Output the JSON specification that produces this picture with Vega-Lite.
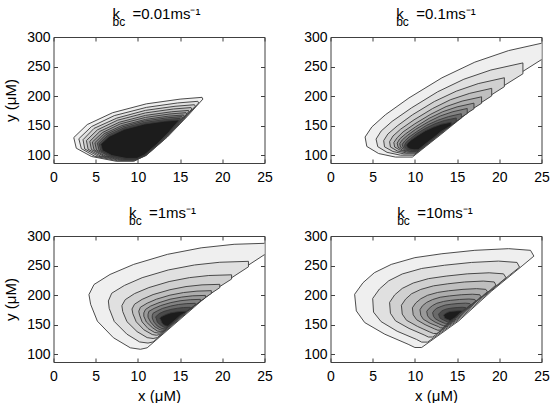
{
"$schema": "https://vega.github.io/schema/vega-lite/v6.json",
"padding": {"left": 2.5, "top": 6, "right": 0, "bottom": 0},
"config": {
  "view": {"stroke": "#404040", "strokeWidth": 1},
  "axis": {"domain": false, "grid": false, "tickColor": "#404040", "tickSize": -4, "labelFont": "Liberation Sans", "labelFontSize": 14, "labelColor": "#000000", "titleFont": "Liberation Sans", "titleFontSize": 15, "titleFontWeight": "normal", "titleColor": "#000000", "labelFlush": false, "labelOverlap": false},
  "axisX": {"labelPadding": 11, "titlePadding": 5},
  "axisY": {"labelPadding": 7.5, "titlePadding": 8},
  "title": {"anchor": "start", "offset": 2, "subtitlePadding": -5, "fontSize": 15, "subtitleFontSize": 12, "font": "Liberation Sans", "subtitleFont": "Liberation Sans", "fontWeight": "normal", "color": "#000000", "subtitleColor": "#000000", "frame": "group"}
},
"datasets": {
"p1": [
{"l":1,"i":1,"x":17.6,"y":198},{"l":1,"i":2,"x":15.0,"y":195},{"l":1,"i":3,"x":11.0,"y":187},{"l":1,"i":4,"x":7.0,"y":172},{"l":1,"i":5,"x":4.0,"y":152},{"l":1,"i":6,"x":2.4,"y":130},{"l":1,"i":7,"x":2.7,"y":112},{"l":1,"i":8,"x":4.5,"y":98},{"l":1,"i":9,"x":7.4,"y":90},{"l":1,"i":10,"x":9.5,"y":90},{"l":1,"i":11,"x":11.0,"y":100},{"l":1,"i":12,"x":13.5,"y":131},{"l":1,"i":13,"x":15.8,"y":165},{"l":1,"i":14,"x":17.7,"y":195},{"l":1,"i":15,"x":17.6,"y":198},
{"l":2,"i":1,"x":17.1,"y":191.3},{"l":2,"i":2,"x":14.7,"y":188.5},{"l":2,"i":3,"x":11.0,"y":181},{"l":2,"i":4,"x":7.2,"y":167.1},{"l":2,"i":5,"x":4.5,"y":148.5},{"l":2,"i":6,"x":3.0,"y":128},{"l":2,"i":7,"x":3.3,"y":111.3},{"l":2,"i":8,"x":4.9,"y":98.3},{"l":2,"i":9,"x":7.6,"y":90.8},{"l":2,"i":10,"x":9.6,"y":90.8},{"l":2,"i":11,"x":11.0,"y":100.1},{"l":2,"i":12,"x":13.3,"y":129},{"l":2,"i":13,"x":15.4,"y":160.6},{"l":2,"i":14,"x":17.2,"y":188.5},{"l":2,"i":15,"x":17.1,"y":191.3},
{"l":3,"i":1,"x":16.7,"y":185.5},{"l":3,"i":2,"x":14.4,"y":182.9},{"l":3,"i":3,"x":10.9,"y":176},{"l":3,"i":4,"x":7.5,"y":162.9},{"l":3,"i":5,"x":4.8,"y":145.5},{"l":3,"i":6,"x":3.5,"y":126.4},{"l":3,"i":7,"x":3.7,"y":110.7},{"l":3,"i":8,"x":5.3,"y":98.5},{"l":3,"i":9,"x":7.8,"y":91.6},{"l":3,"i":10,"x":9.6,"y":91.6},{"l":3,"i":11,"x":10.9,"y":100.3},{"l":3,"i":12,"x":13.1,"y":127.2},{"l":3,"i":13,"x":15.1,"y":156.8},{"l":3,"i":14,"x":16.8,"y":182.9},{"l":3,"i":15,"x":16.7,"y":185.5},
{"l":4,"i":1,"x":16.3,"y":180.7},{"l":4,"i":2,"x":14.2,"y":178.3},{"l":4,"i":3,"x":10.9,"y":171.7},{"l":4,"i":4,"x":7.6,"y":159.4},{"l":4,"i":5,"x":5.2,"y":143},{"l":4,"i":6,"x":3.9,"y":125},{"l":4,"i":7,"x":4.1,"y":110.2},{"l":4,"i":8,"x":5.6,"y":98.7},{"l":4,"i":9,"x":8.0,"y":92.2},{"l":4,"i":10,"x":9.7,"y":92.2},{"l":4,"i":11,"x":10.9,"y":100.4},{"l":4,"i":12,"x":13.0,"y":125.8},{"l":4,"i":13,"x":14.9,"y":153.7},{"l":4,"i":14,"x":16.4,"y":178.3},{"l":4,"i":15,"x":16.3,"y":180.7},
{"l":5,"i":1,"x":16.0,"y":175.9},{"l":5,"i":2,"x":14.0,"y":173.6},{"l":5,"i":3,"x":10.9,"y":167.5},{"l":5,"i":4,"x":7.8,"y":155.9},{"l":5,"i":5,"x":5.5,"y":140.5},{"l":5,"i":6,"x":4.3,"y":123.6},{"l":5,"i":7,"x":4.5,"y":109.7},{"l":5,"i":8,"x":5.9,"y":98.9},{"l":5,"i":9,"x":8.1,"y":92.8},{"l":5,"i":10,"x":9.7,"y":92.8},{"l":5,"i":11,"x":10.9,"y":100.5},{"l":5,"i":12,"x":12.8,"y":124.3},{"l":5,"i":13,"x":14.6,"y":150.5},{"l":5,"i":14,"x":16.0,"y":173.6},{"l":5,"i":15,"x":16.0,"y":175.9},
{"l":6,"i":1,"x":15.7,"y":172.1},{"l":6,"i":2,"x":13.8,"y":169.9},{"l":6,"i":3,"x":10.9,"y":164.1},{"l":6,"i":4,"x":7.9,"y":153.1},{"l":6,"i":5,"x":5.8,"y":138.5},{"l":6,"i":6,"x":4.6,"y":122.4},{"l":6,"i":7,"x":4.8,"y":109.3},{"l":6,"i":8,"x":6.1,"y":99.1},{"l":6,"i":9,"x":8.2,"y":93.2},{"l":6,"i":10,"x":9.8,"y":93.2},{"l":6,"i":11,"x":10.9,"y":100.5},{"l":6,"i":12,"x":12.7,"y":123.2},{"l":6,"i":13,"x":14.4,"y":148},{"l":6,"i":14,"x":15.8,"y":169.9},{"l":6,"i":15,"x":15.7,"y":172.1},
{"l":7,"i":1,"x":15.4,"y":168.2},{"l":7,"i":2,"x":13.6,"y":166.2},{"l":7,"i":3,"x":10.9,"y":160.7},{"l":7,"i":4,"x":8.1,"y":150.3},{"l":7,"i":5,"x":6.0,"y":136.5},{"l":7,"i":6,"x":4.9,"y":121.3},{"l":7,"i":7,"x":5.1,"y":108.9},{"l":7,"i":8,"x":6.4,"y":99.2},{"l":7,"i":9,"x":8.4,"y":93.7},{"l":7,"i":10,"x":9.8,"y":93.7},{"l":7,"i":11,"x":10.9,"y":100.6},{"l":7,"i":12,"x":12.6,"y":122},{"l":7,"i":13,"x":14.2,"y":145.5},{"l":7,"i":14,"x":15.5,"y":166.2},{"l":7,"i":15,"x":15.4,"y":168.2},
{"l":8,"i":1,"x":15.2,"y":165.4},{"l":8,"i":2,"x":13.5,"y":163.4},{"l":8,"i":3,"x":10.8,"y":158.1},{"l":8,"i":4,"x":8.2,"y":148.2},{"l":8,"i":5,"x":6.2,"y":135},{"l":8,"i":6,"x":5.2,"y":120.5},{"l":8,"i":7,"x":5.4,"y":108.6},{"l":8,"i":8,"x":6.5,"y":99.4},{"l":8,"i":9,"x":8.5,"y":94.1},{"l":8,"i":10,"x":9.8,"y":94.1},{"l":8,"i":11,"x":10.8,"y":100.7},{"l":8,"i":12,"x":12.5,"y":121.1},{"l":8,"i":13,"x":14.0,"y":143.6},{"l":8,"i":14,"x":15.3,"y":163.4},{"l":8,"i":15,"x":15.2,"y":165.4},
{"l":9,"i":1,"x":15.0,"y":162.5},{"l":9,"i":2,"x":13.3,"y":160.6},{"l":9,"i":3,"x":10.8,"y":155.6},{"l":9,"i":4,"x":8.3,"y":146.1},{"l":9,"i":5,"x":6.4,"y":133.5},{"l":9,"i":6,"x":5.4,"y":119.6},{"l":9,"i":7,"x":5.6,"y":108.3},{"l":9,"i":8,"x":6.7,"y":99.5},{"l":9,"i":9,"x":8.6,"y":94.4},{"l":9,"i":10,"x":9.9,"y":94.4},{"l":9,"i":11,"x":10.8,"y":100.7},{"l":9,"i":12,"x":12.4,"y":120.3},{"l":9,"i":13,"x":13.8,"y":141.7},{"l":9,"i":14,"x":15.0,"y":160.6},{"l":9,"i":15,"x":15.0,"y":162.5},
{"l":10,"i":1,"x":14.8,"y":159.6},{"l":10,"i":2,"x":13.2,"y":157.8},{"l":10,"i":3,"x":10.8,"y":153},{"l":10,"i":4,"x":8.4,"y":144},{"l":10,"i":5,"x":6.6,"y":132},{"l":10,"i":6,"x":5.6,"y":118.8},{"l":10,"i":7,"x":5.8,"y":108},{"l":10,"i":8,"x":6.9,"y":99.6},{"l":10,"i":9,"x":8.6,"y":94.8},{"l":10,"i":10,"x":9.9,"y":94.8},{"l":10,"i":11,"x":10.8,"y":100.8},{"l":10,"i":12,"x":12.3,"y":119.4},{"l":10,"i":13,"x":13.7,"y":139.8},{"l":10,"i":14,"x":14.8,"y":157.8},{"l":10,"i":15,"x":14.8,"y":159.6}
],
"p2": [
{"l":1,"i":1,"x":25.8,"y":292},{"l":1,"i":2,"x":21.1,"y":277},{"l":1,"i":3,"x":17.1,"y":257.5},{"l":1,"i":4,"x":13.2,"y":231},{"l":1,"i":5,"x":9.3,"y":197},{"l":1,"i":6,"x":6.5,"y":168.5},{"l":1,"i":7,"x":4.9,"y":148},{"l":1,"i":8,"x":4.1,"y":131},{"l":1,"i":9,"x":4.3,"y":115},{"l":1,"i":10,"x":5.7,"y":103},{"l":1,"i":11,"x":7.7,"y":97},{"l":1,"i":12,"x":9.7,"y":97},{"l":1,"i":13,"x":13.2,"y":136.6},{"l":1,"i":14,"x":17.1,"y":181.6},{"l":1,"i":15,"x":21.1,"y":226.6},{"l":1,"i":16,"x":25.8,"y":269},{"l":1,"i":17,"x":25.8,"y":292},
{"l":2,"i":1,"x":22.8,"y":256.2},{"l":2,"i":2,"x":19.0,"y":244.2},{"l":2,"i":3,"x":15.8,"y":228.6},{"l":2,"i":4,"x":12.7,"y":207.4},{"l":2,"i":5,"x":9.6,"y":180.2},{"l":2,"i":6,"x":7.3,"y":157.4},{"l":2,"i":7,"x":6.0,"y":141},{"l":2,"i":8,"x":5.4,"y":127.4},{"l":2,"i":9,"x":5.6,"y":114.6},{"l":2,"i":10,"x":6.7,"y":105},{"l":2,"i":11,"x":8.3,"y":100.2},{"l":2,"i":12,"x":9.9,"y":100.2},{"l":2,"i":13,"x":12.7,"y":131.9},{"l":2,"i":14,"x":15.8,"y":167.9},{"l":2,"i":15,"x":19.0,"y":203.9},{"l":2,"i":16,"x":22.8,"y":237.8},{"l":2,"i":17,"x":22.8,"y":256.2},
{"l":3,"i":1,"x":20.6,"y":231.1},{"l":3,"i":2,"x":17.5,"y":221.2},{"l":3,"i":3,"x":14.9,"y":208.4},{"l":3,"i":4,"x":12.3,"y":190.9},{"l":3,"i":5,"x":9.7,"y":168.4},{"l":3,"i":6,"x":7.9,"y":149.6},{"l":3,"i":7,"x":6.8,"y":136.1},{"l":3,"i":8,"x":6.3,"y":124.9},{"l":3,"i":9,"x":6.4,"y":114.3},{"l":3,"i":10,"x":7.4,"y":106.4},{"l":3,"i":11,"x":8.7,"y":102.4},{"l":3,"i":12,"x":10.0,"y":102.4},{"l":3,"i":13,"x":12.3,"y":128.6},{"l":3,"i":14,"x":14.9,"y":158.3},{"l":3,"i":15,"x":17.5,"y":188},{"l":3,"i":16,"x":20.6,"y":216},{"l":3,"i":17,"x":20.6,"y":231.1},
{"l":4,"i":1,"x":19.1,"y":213.2},{"l":4,"i":2,"x":16.5,"y":204.8},{"l":4,"i":3,"x":14.2,"y":193.9},{"l":4,"i":4,"x":12.1,"y":179.1},{"l":4,"i":5,"x":9.9,"y":160},{"l":4,"i":6,"x":8.3,"y":144.1},{"l":4,"i":7,"x":7.4,"y":132.6},{"l":4,"i":8,"x":7.0,"y":123.1},{"l":4,"i":9,"x":7.1,"y":114.1},{"l":4,"i":10,"x":7.9,"y":107.4},{"l":4,"i":11,"x":9.0,"y":104},{"l":4,"i":12,"x":10.1,"y":104},{"l":4,"i":13,"x":12.1,"y":126.2},{"l":4,"i":14,"x":14.2,"y":151.4},{"l":4,"i":15,"x":16.5,"y":176.6},{"l":4,"i":16,"x":19.1,"y":200.4},{"l":4,"i":17,"x":19.1,"y":213.2},
{"l":5,"i":1,"x":17.9,"y":198.9},{"l":5,"i":2,"x":15.6,"y":191.7},{"l":5,"i":3,"x":13.7,"y":182.4},{"l":5,"i":4,"x":11.9,"y":169.6},{"l":5,"i":5,"x":10.0,"y":153.3},{"l":5,"i":6,"x":8.6,"y":139.6},{"l":5,"i":7,"x":7.9,"y":129.8},{"l":5,"i":8,"x":7.5,"y":121.6},{"l":5,"i":9,"x":7.6,"y":114},{"l":5,"i":10,"x":8.3,"y":108.2},{"l":5,"i":11,"x":9.2,"y":105.3},{"l":5,"i":12,"x":10.2,"y":105.3},{"l":5,"i":13,"x":11.9,"y":124.3},{"l":5,"i":14,"x":13.7,"y":145.9},{"l":5,"i":15,"x":15.6,"y":167.5},{"l":5,"i":16,"x":17.9,"y":187.9},{"l":5,"i":17,"x":17.9,"y":198.9},
{"l":6,"i":1,"x":17.0,"y":188.2},{"l":6,"i":2,"x":15.0,"y":181.9},{"l":6,"i":3,"x":13.3,"y":173.7},{"l":6,"i":4,"x":11.7,"y":162.6},{"l":6,"i":5,"x":10.1,"y":148.3},{"l":6,"i":6,"x":8.9,"y":136.3},{"l":6,"i":7,"x":8.2,"y":127.7},{"l":6,"i":8,"x":7.9,"y":120.6},{"l":6,"i":9,"x":8.0,"y":113.8},{"l":6,"i":10,"x":8.5,"y":108.8},{"l":6,"i":11,"x":9.4,"y":106.3},{"l":6,"i":12,"x":10.2,"y":106.3},{"l":6,"i":13,"x":11.7,"y":122.9},{"l":6,"i":14,"x":13.3,"y":141.8},{"l":6,"i":15,"x":15.0,"y":160.7},{"l":6,"i":16,"x":17.0,"y":178.5},{"l":6,"i":17,"x":17.0,"y":188.2},
{"l":7,"i":1,"x":16.2,"y":179.2},{"l":7,"i":2,"x":14.5,"y":173.7},{"l":7,"i":3,"x":13.0,"y":166.5},{"l":7,"i":4,"x":11.6,"y":156.7},{"l":7,"i":5,"x":10.1,"y":144.1},{"l":7,"i":6,"x":9.1,"y":133.5},{"l":7,"i":7,"x":8.5,"y":126},{"l":7,"i":8,"x":8.2,"y":119.7},{"l":7,"i":9,"x":8.3,"y":113.7},{"l":7,"i":10,"x":8.8,"y":109.3},{"l":7,"i":11,"x":9.5,"y":107.1},{"l":7,"i":12,"x":10.3,"y":107.1},{"l":7,"i":13,"x":11.6,"y":121.7},{"l":7,"i":14,"x":13.0,"y":138.4},{"l":7,"i":15,"x":14.5,"y":155},{"l":7,"i":16,"x":16.2,"y":170.7},{"l":7,"i":17,"x":16.2,"y":179.2},
{"l":8,"i":1,"x":15.5,"y":170.3},{"l":8,"i":2,"x":14.0,"y":165.5},{"l":8,"i":3,"x":12.7,"y":159.2},{"l":8,"i":4,"x":11.4,"y":150.8},{"l":8,"i":5,"x":10.2,"y":139.9},{"l":8,"i":6,"x":9.3,"y":130.8},{"l":8,"i":7,"x":8.8,"y":124.2},{"l":8,"i":8,"x":8.5,"y":118.8},{"l":8,"i":9,"x":8.6,"y":113.6},{"l":8,"i":10,"x":9.0,"y":109.8},{"l":8,"i":11,"x":9.7,"y":107.9},{"l":8,"i":12,"x":10.3,"y":107.9},{"l":8,"i":13,"x":11.4,"y":120.6},{"l":8,"i":14,"x":12.7,"y":135},{"l":8,"i":15,"x":14.0,"y":149.4},{"l":8,"i":16,"x":15.5,"y":162.9},{"l":8,"i":17,"x":15.5,"y":170.3},
{"l":9,"i":1,"x":14.9,"y":163.1},{"l":9,"i":2,"x":13.5,"y":158.9},{"l":9,"i":3,"x":12.4,"y":153.5},{"l":9,"i":4,"x":11.3,"y":146},{"l":9,"i":5,"x":10.2,"y":136.5},{"l":9,"i":6,"x":9.5,"y":128.5},{"l":9,"i":7,"x":9.0,"y":122.8},{"l":9,"i":8,"x":8.8,"y":118},{"l":9,"i":9,"x":8.8,"y":113.6},{"l":9,"i":10,"x":9.2,"y":110.2},{"l":9,"i":11,"x":9.8,"y":108.5},{"l":9,"i":12,"x":10.4,"y":108.5},{"l":9,"i":13,"x":11.3,"y":119.6},{"l":9,"i":14,"x":12.4,"y":132.2},{"l":9,"i":15,"x":13.5,"y":144.8},{"l":9,"i":16,"x":14.9,"y":156.7},{"l":9,"i":17,"x":14.9,"y":163.1},
{"l":10,"i":1,"x":14.3,"y":156},{"l":10,"i":2,"x":13.1,"y":152.4},{"l":10,"i":3,"x":12.2,"y":147.7},{"l":10,"i":4,"x":11.2,"y":141.3},{"l":10,"i":5,"x":10.3,"y":133.2},{"l":10,"i":6,"x":9.6,"y":126.3},{"l":10,"i":7,"x":9.2,"y":121.4},{"l":10,"i":8,"x":9.0,"y":117.3},{"l":10,"i":9,"x":9.1,"y":113.5},{"l":10,"i":10,"x":9.4,"y":110.6},{"l":10,"i":11,"x":9.9,"y":109.2},{"l":10,"i":12,"x":10.4,"y":109.2},{"l":10,"i":13,"x":11.2,"y":118.7},{"l":10,"i":14,"x":12.2,"y":129.5},{"l":10,"i":15,"x":13.1,"y":140.3},{"l":10,"i":16,"x":14.3,"y":150.4},{"l":10,"i":17,"x":14.3,"y":156}
],
"p3": [
{"l":1,"i":1,"x":25.8,"y":288},{"l":1,"i":2,"x":21.4,"y":286},{"l":1,"i":3,"x":17.5,"y":280},{"l":1,"i":4,"x":13.5,"y":269},{"l":1,"i":5,"x":9.5,"y":252},{"l":1,"i":6,"x":6.7,"y":235},{"l":1,"i":7,"x":4.8,"y":218},{"l":1,"i":8,"x":4.2,"y":201},{"l":1,"i":9,"x":4.4,"y":184.5},{"l":1,"i":10,"x":5.2,"y":156},{"l":1,"i":11,"x":7.1,"y":128},{"l":1,"i":12,"x":9.1,"y":111},{"l":1,"i":13,"x":10.3,"y":108.5},{"l":1,"i":14,"x":11.1,"y":111},{"l":1,"i":15,"x":17.5,"y":190},{"l":1,"i":16,"x":21.4,"y":235},{"l":1,"i":17,"x":25.8,"y":276},{"l":1,"i":18,"x":25.8,"y":288},
{"l":2,"i":1,"x":23.1,"y":257.2},{"l":2,"i":2,"x":19.7,"y":255.6},{"l":2,"i":3,"x":16.7,"y":251},{"l":2,"i":4,"x":13.6,"y":242.6},{"l":2,"i":5,"x":10.5,"y":229.5},{"l":2,"i":6,"x":8.4,"y":216.4},{"l":2,"i":7,"x":6.9,"y":203.3},{"l":2,"i":8,"x":6.5,"y":190.2},{"l":2,"i":9,"x":6.6,"y":177.5},{"l":2,"i":10,"x":7.2,"y":155.5},{"l":2,"i":11,"x":8.7,"y":134},{"l":2,"i":12,"x":10.2,"y":120.9},{"l":2,"i":13,"x":11.2,"y":119},{"l":2,"i":14,"x":11.8,"y":120.9},{"l":2,"i":15,"x":16.7,"y":181.7},{"l":2,"i":16,"x":19.7,"y":216.4},{"l":2,"i":17,"x":23.1,"y":247.9},{"l":2,"i":18,"x":23.1,"y":257.2},
{"l":3,"i":1,"x":21.1,"y":234.4},{"l":3,"i":2,"x":18.4,"y":233.2},{"l":3,"i":3,"x":16.1,"y":229.6},{"l":3,"i":4,"x":13.7,"y":223},{"l":3,"i":5,"x":11.3,"y":212.8},{"l":3,"i":6,"x":9.6,"y":202.6},{"l":3,"i":7,"x":8.5,"y":192.4},{"l":3,"i":8,"x":8.1,"y":182.2},{"l":3,"i":9,"x":8.2,"y":172.3},{"l":3,"i":10,"x":8.7,"y":155.2},{"l":3,"i":11,"x":9.9,"y":138.4},{"l":3,"i":12,"x":11.1,"y":128.2},{"l":3,"i":13,"x":11.8,"y":126.7},{"l":3,"i":14,"x":12.3,"y":128.2},{"l":3,"i":15,"x":16.1,"y":175.6},{"l":3,"i":16,"x":18.4,"y":202.6},{"l":3,"i":17,"x":21.1,"y":227.2},{"l":3,"i":18,"x":21.1,"y":234.4},
{"l":4,"i":1,"x":19.7,"y":218.3},{"l":4,"i":2,"x":17.6,"y":217.4},{"l":4,"i":3,"x":15.7,"y":214.5},{"l":4,"i":4,"x":13.8,"y":209.2},{"l":4,"i":5,"x":11.8,"y":201},{"l":4,"i":6,"x":10.5,"y":192.9},{"l":4,"i":7,"x":9.6,"y":184.7},{"l":4,"i":8,"x":9.3,"y":176.6},{"l":4,"i":9,"x":9.4,"y":168.6},{"l":4,"i":10,"x":9.8,"y":155},{"l":4,"i":11,"x":10.7,"y":141.5},{"l":4,"i":12,"x":11.7,"y":133.4},{"l":4,"i":13,"x":12.2,"y":132.2},{"l":4,"i":14,"x":12.6,"y":133.4},{"l":4,"i":15,"x":15.7,"y":171.3},{"l":4,"i":16,"x":17.6,"y":192.9},{"l":4,"i":17,"x":19.7,"y":212.6},{"l":4,"i":18,"x":19.7,"y":218.3},
{"l":5,"i":1,"x":18.7,"y":207.6},{"l":5,"i":2,"x":17.0,"y":206.8},{"l":5,"i":3,"x":15.4,"y":204.4},{"l":5,"i":4,"x":13.8,"y":200},{"l":5,"i":5,"x":12.2,"y":193.2},{"l":5,"i":6,"x":11.1,"y":186.4},{"l":5,"i":7,"x":10.3,"y":179.6},{"l":5,"i":8,"x":10.1,"y":172.8},{"l":5,"i":9,"x":10.2,"y":166.2},{"l":5,"i":10,"x":10.5,"y":154.8},{"l":5,"i":11,"x":11.2,"y":143.6},{"l":5,"i":12,"x":12.0,"y":136.8},{"l":5,"i":13,"x":12.5,"y":135.8},{"l":5,"i":14,"x":12.8,"y":136.8},{"l":5,"i":15,"x":15.4,"y":168.4},{"l":5,"i":16,"x":17.0,"y":186.4},{"l":5,"i":17,"x":18.7,"y":202.8},{"l":5,"i":18,"x":18.7,"y":207.6},
{"l":6,"i":1,"x":18.0,"y":199.6},{"l":6,"i":2,"x":16.5,"y":198.9},{"l":6,"i":3,"x":15.2,"y":196.8},{"l":6,"i":4,"x":13.8,"y":193.1},{"l":6,"i":5,"x":12.5,"y":187.3},{"l":6,"i":6,"x":11.5,"y":181.5},{"l":6,"i":7,"x":10.9,"y":175.8},{"l":6,"i":8,"x":10.7,"y":170},{"l":6,"i":9,"x":10.7,"y":164.4},{"l":6,"i":10,"x":11.0,"y":154.7},{"l":6,"i":11,"x":11.7,"y":145.2},{"l":6,"i":12,"x":12.3,"y":139.4},{"l":6,"i":13,"x":12.7,"y":138.5},{"l":6,"i":14,"x":13.0,"y":139.4},{"l":6,"i":15,"x":15.2,"y":166.2},{"l":6,"i":16,"x":16.5,"y":181.5},{"l":6,"i":17,"x":18.0,"y":195.5},{"l":6,"i":18,"x":18.0,"y":199.6},
{"l":7,"i":1,"x":17.4,"y":192.9},{"l":7,"i":2,"x":16.2,"y":192.3},{"l":7,"i":3,"x":15.0,"y":190.5},{"l":7,"i":4,"x":13.9,"y":187.4},{"l":7,"i":5,"x":12.7,"y":182.4},{"l":7,"i":6,"x":11.9,"y":177.5},{"l":7,"i":7,"x":11.3,"y":172.6},{"l":7,"i":8,"x":11.2,"y":167.6},{"l":7,"i":9,"x":11.2,"y":162.8},{"l":7,"i":10,"x":11.5,"y":154.6},{"l":7,"i":11,"x":12.0,"y":146.5},{"l":7,"i":12,"x":12.6,"y":141.5},{"l":7,"i":13,"x":12.9,"y":140.8},{"l":7,"i":14,"x":13.2,"y":141.5},{"l":7,"i":15,"x":15.0,"y":164.4},{"l":7,"i":16,"x":16.2,"y":177.5},{"l":7,"i":17,"x":17.4,"y":189.4},{"l":7,"i":18,"x":17.4,"y":192.9},
{"l":8,"i":1,"x":16.8,"y":186.2},{"l":8,"i":2,"x":15.8,"y":185.7},{"l":8,"i":3,"x":14.8,"y":184.2},{"l":8,"i":4,"x":13.9,"y":181.6},{"l":8,"i":5,"x":12.9,"y":177.5},{"l":8,"i":6,"x":12.3,"y":173.4},{"l":8,"i":7,"x":11.8,"y":169.4},{"l":8,"i":8,"x":11.7,"y":165.3},{"l":8,"i":9,"x":11.7,"y":161.3},{"l":8,"i":10,"x":11.9,"y":154.5},{"l":8,"i":11,"x":12.3,"y":147.8},{"l":8,"i":12,"x":12.8,"y":143.7},{"l":8,"i":13,"x":13.1,"y":143.1},{"l":8,"i":14,"x":13.3,"y":143.7},{"l":8,"i":15,"x":14.8,"y":162.6},{"l":8,"i":16,"x":15.8,"y":173.4},{"l":8,"i":17,"x":16.8,"y":183.3},{"l":8,"i":18,"x":16.8,"y":186.2},
{"l":9,"i":1,"x":16.2,"y":179.5},{"l":9,"i":2,"x":15.4,"y":179.1},{"l":9,"i":3,"x":14.7,"y":177.9},{"l":9,"i":4,"x":13.9,"y":175.9},{"l":9,"i":5,"x":13.1,"y":172.6},{"l":9,"i":6,"x":12.6,"y":169.4},{"l":9,"i":7,"x":12.3,"y":166.2},{"l":9,"i":8,"x":12.1,"y":162.9},{"l":9,"i":9,"x":12.2,"y":159.8},{"l":9,"i":10,"x":12.3,"y":154.4},{"l":9,"i":11,"x":12.7,"y":149.1},{"l":9,"i":12,"x":13.1,"y":145.8},{"l":9,"i":13,"x":13.3,"y":145.4},{"l":9,"i":14,"x":13.5,"y":145.8},{"l":9,"i":15,"x":14.7,"y":160.8},{"l":9,"i":16,"x":15.4,"y":169.4},{"l":9,"i":17,"x":16.2,"y":177.2},{"l":9,"i":18,"x":16.2,"y":179.5},
{"l":10,"i":1,"x":15.7,"y":172.8},{"l":10,"i":2,"x":15.0,"y":172.5},{"l":10,"i":3,"x":14.5,"y":171.6},{"l":10,"i":4,"x":13.9,"y":170.1},{"l":10,"i":5,"x":13.4,"y":167.7},{"l":10,"i":6,"x":13.0,"y":165.3},{"l":10,"i":7,"x":12.7,"y":163},{"l":10,"i":8,"x":12.6,"y":160.6},{"l":10,"i":9,"x":12.7,"y":158.3},{"l":10,"i":10,"x":12.8,"y":154.3},{"l":10,"i":11,"x":13.0,"y":150.4},{"l":10,"i":12,"x":13.3,"y":148},{"l":10,"i":13,"x":13.5,"y":147.6},{"l":10,"i":14,"x":13.6,"y":148},{"l":10,"i":15,"x":14.5,"y":159},{"l":10,"i":16,"x":15.0,"y":165.3},{"l":10,"i":17,"x":15.7,"y":171.1},{"l":10,"i":18,"x":15.7,"y":172.8}
],
"p4": [
{"l":1,"i":1,"x":24.1,"y":266},{"l":1,"i":2,"x":23.7,"y":275.8},{"l":1,"i":3,"x":21.1,"y":278.6},{"l":1,"i":4,"x":17.1,"y":275.8},{"l":1,"i":5,"x":13.2,"y":270},{"l":1,"i":6,"x":10.0,"y":263.4},{"l":1,"i":7,"x":7.2,"y":252},{"l":1,"i":8,"x":5.2,"y":238},{"l":1,"i":9,"x":3.85,"y":221},{"l":1,"i":10,"x":2.86,"y":201.5},{"l":1,"i":11,"x":3.06,"y":173.4},{"l":1,"i":12,"x":4.05,"y":153.7},{"l":1,"i":13,"x":6.43,"y":134},{"l":1,"i":14,"x":9.2,"y":117},{"l":1,"i":15,"x":10.0,"y":111.5},{"l":1,"i":16,"x":10.8,"y":111.5},{"l":1,"i":17,"x":15.2,"y":156.5},{"l":1,"i":18,"x":19.1,"y":207},{"l":1,"i":19,"x":22.7,"y":249.4},{"l":1,"i":20,"x":24.1,"y":266},
{"l":2,"i":1,"x":22.4,"y":247.3},{"l":2,"i":2,"x":22.1,"y":255.3},{"l":2,"i":3,"x":19.9,"y":257.6},{"l":2,"i":4,"x":16.7,"y":255.3},{"l":2,"i":5,"x":13.5,"y":250.6},{"l":2,"i":6,"x":10.8,"y":245.1},{"l":2,"i":7,"x":8.5,"y":235.8},{"l":2,"i":8,"x":6.9,"y":224.3},{"l":2,"i":9,"x":5.8,"y":210.4},{"l":2,"i":10,"x":5.0,"y":194.4},{"l":2,"i":11,"x":5.1,"y":171.3},{"l":2,"i":12,"x":6.0,"y":155.2},{"l":2,"i":13,"x":7.9,"y":139},{"l":2,"i":14,"x":10.2,"y":125.1},{"l":2,"i":15,"x":10.8,"y":120.6},{"l":2,"i":16,"x":11.5,"y":120.6},{"l":2,"i":17,"x":15.1,"y":157.5},{"l":2,"i":18,"x":18.3,"y":198.9},{"l":2,"i":19,"x":21.2,"y":233.7},{"l":2,"i":20,"x":22.4,"y":247.3},
{"l":3,"i":1,"x":20.8,"y":229.6},{"l":3,"i":2,"x":20.5,"y":236},{"l":3,"i":3,"x":18.8,"y":237.8},{"l":3,"i":4,"x":16.2,"y":236},{"l":3,"i":5,"x":13.7,"y":232.2},{"l":3,"i":6,"x":11.6,"y":227.9},{"l":3,"i":7,"x":9.8,"y":220.5},{"l":3,"i":8,"x":8.5,"y":211.4},{"l":3,"i":9,"x":7.6,"y":200.4},{"l":3,"i":10,"x":7.0,"y":187.7},{"l":3,"i":11,"x":7.1,"y":169.4},{"l":3,"i":12,"x":7.7,"y":156.6},{"l":3,"i":13,"x":9.3,"y":143.8},{"l":3,"i":14,"x":11.1,"y":132.7},{"l":3,"i":15,"x":11.6,"y":129.2},{"l":3,"i":16,"x":12.1,"y":129.2},{"l":3,"i":17,"x":15.0,"y":158.4},{"l":3,"i":18,"x":17.5,"y":191.3},{"l":3,"i":19,"x":19.9,"y":218.8},{"l":3,"i":20,"x":20.8,"y":229.6},
{"l":4,"i":1,"x":19.6,"y":217.1},{"l":4,"i":2,"x":19.4,"y":222.3},{"l":4,"i":3,"x":18.1,"y":223.8},{"l":4,"i":4,"x":15.9,"y":222.3},{"l":4,"i":5,"x":13.9,"y":219.2},{"l":4,"i":6,"x":12.2,"y":215.7},{"l":4,"i":7,"x":10.7,"y":209.7},{"l":4,"i":8,"x":9.6,"y":202.3},{"l":4,"i":9,"x":8.9,"y":193.3},{"l":4,"i":10,"x":8.4,"y":182.9},{"l":4,"i":11,"x":8.5,"y":168},{"l":4,"i":12,"x":9.0,"y":157.6},{"l":4,"i":13,"x":10.3,"y":147.2},{"l":4,"i":14,"x":11.7,"y":138.1},{"l":4,"i":15,"x":12.2,"y":135.2},{"l":4,"i":16,"x":12.6,"y":135.2},{"l":4,"i":17,"x":14.9,"y":159.1},{"l":4,"i":18,"x":17.0,"y":185.9},{"l":4,"i":19,"x":18.9,"y":208.3},{"l":4,"i":20,"x":19.6,"y":217.1},
{"l":5,"i":1,"x":18.6,"y":205.7},{"l":5,"i":2,"x":18.4,"y":209.8},{"l":5,"i":3,"x":17.3,"y":211},{"l":5,"i":4,"x":15.7,"y":209.8},{"l":5,"i":5,"x":14.0,"y":207.4},{"l":5,"i":6,"x":12.7,"y":204.6},{"l":5,"i":7,"x":11.5,"y":199.8},{"l":5,"i":8,"x":10.7,"y":193.9},{"l":5,"i":9,"x":10.1,"y":186.8},{"l":5,"i":10,"x":9.7,"y":178.6},{"l":5,"i":11,"x":9.8,"y":166.8},{"l":5,"i":12,"x":10.2,"y":158.5},{"l":5,"i":13,"x":11.2,"y":150.2},{"l":5,"i":14,"x":12.3,"y":143.1},{"l":5,"i":15,"x":12.7,"y":140.8},{"l":5,"i":16,"x":13.0,"y":140.8},{"l":5,"i":17,"x":14.9,"y":159.7},{"l":5,"i":18,"x":16.5,"y":180.9},{"l":5,"i":19,"x":18.0,"y":198.7},{"l":5,"i":20,"x":18.6,"y":205.7},
{"l":6,"i":1,"x":17.8,"y":197.4},{"l":6,"i":2,"x":17.7,"y":200.7},{"l":6,"i":3,"x":16.8,"y":201.6},{"l":6,"i":4,"x":15.5,"y":200.7},{"l":6,"i":5,"x":14.1,"y":198.7},{"l":6,"i":6,"x":13.0,"y":196.5},{"l":6,"i":7,"x":12.1,"y":192.6},{"l":6,"i":8,"x":11.4,"y":187.8},{"l":6,"i":9,"x":10.9,"y":182.1},{"l":6,"i":10,"x":10.6,"y":175.4},{"l":6,"i":11,"x":10.7,"y":165.9},{"l":6,"i":12,"x":11.0,"y":159.2},{"l":6,"i":13,"x":11.8,"y":152.5},{"l":6,"i":14,"x":12.8,"y":146.7},{"l":6,"i":15,"x":13.0,"y":144.8},{"l":6,"i":16,"x":13.3,"y":144.8},{"l":6,"i":17,"x":14.8,"y":160.1},{"l":6,"i":18,"x":16.1,"y":177.3},{"l":6,"i":19,"x":17.4,"y":191.7},{"l":6,"i":20,"x":17.8,"y":197.4},
{"l":7,"i":1,"x":17.2,"y":190.1},{"l":7,"i":2,"x":17.1,"y":192.7},{"l":7,"i":3,"x":16.4,"y":193.5},{"l":7,"i":4,"x":15.3,"y":192.7},{"l":7,"i":5,"x":14.2,"y":191.2},{"l":7,"i":6,"x":13.4,"y":189.4},{"l":7,"i":7,"x":12.6,"y":186.3},{"l":7,"i":8,"x":12.1,"y":182.5},{"l":7,"i":9,"x":11.7,"y":177.9},{"l":7,"i":10,"x":11.4,"y":172.7},{"l":7,"i":11,"x":11.5,"y":165.1},{"l":7,"i":12,"x":11.8,"y":159.8},{"l":7,"i":13,"x":12.4,"y":154.4},{"l":7,"i":14,"x":13.1,"y":149.8},{"l":7,"i":15,"x":13.4,"y":148.4},{"l":7,"i":16,"x":13.6,"y":148.4},{"l":7,"i":17,"x":14.8,"y":160.5},{"l":7,"i":18,"x":15.8,"y":174.2},{"l":7,"i":19,"x":16.8,"y":185.6},{"l":7,"i":20,"x":17.2,"y":190.1},
{"l":8,"i":1,"x":16.6,"y":183.8},{"l":8,"i":2,"x":16.5,"y":185.9},{"l":8,"i":3,"x":16.0,"y":186.5},{"l":8,"i":4,"x":15.1,"y":185.9},{"l":8,"i":5,"x":14.3,"y":184.7},{"l":8,"i":6,"x":13.6,"y":183.3},{"l":8,"i":7,"x":13.1,"y":180.9},{"l":8,"i":8,"x":12.6,"y":178},{"l":8,"i":9,"x":12.3,"y":174.4},{"l":8,"i":10,"x":12.1,"y":170.3},{"l":8,"i":11,"x":12.2,"y":164.4},{"l":8,"i":12,"x":12.4,"y":160.3},{"l":8,"i":13,"x":12.9,"y":156.1},{"l":8,"i":14,"x":13.5,"y":152.5},{"l":8,"i":15,"x":13.6,"y":151.4},{"l":8,"i":16,"x":13.8,"y":151.4},{"l":8,"i":17,"x":14.7,"y":160.8},{"l":8,"i":18,"x":15.6,"y":171.5},{"l":8,"i":19,"x":16.3,"y":180.4},{"l":8,"i":20,"x":16.6,"y":183.8},
{"l":9,"i":1,"x":16.0,"y":177.6},{"l":9,"i":2,"x":16.0,"y":179.1},{"l":9,"i":3,"x":15.6,"y":179.5},{"l":9,"i":4,"x":15.0,"y":179.1},{"l":9,"i":5,"x":14.4,"y":178.2},{"l":9,"i":6,"x":13.9,"y":177.2},{"l":9,"i":7,"x":13.5,"y":175.5},{"l":9,"i":8,"x":13.2,"y":173.4},{"l":9,"i":9,"x":13.0,"y":170.9},{"l":9,"i":10,"x":12.8,"y":167.9},{"l":9,"i":11,"x":12.9,"y":163.7},{"l":9,"i":12,"x":13.0,"y":160.8},{"l":9,"i":13,"x":13.4,"y":157.8},{"l":9,"i":14,"x":13.8,"y":155.2},{"l":9,"i":15,"x":13.9,"y":154.4},{"l":9,"i":16,"x":14.0,"y":154.4},{"l":9,"i":17,"x":14.7,"y":161.2},{"l":9,"i":18,"x":15.3,"y":168.8},{"l":9,"i":19,"x":15.8,"y":175.1},{"l":9,"i":20,"x":16.0,"y":177.6},
{"l":10,"i":1,"x":15.6,"y":172.4},{"l":10,"i":2,"x":15.5,"y":173.4},{"l":10,"i":3,"x":15.3,"y":173.7},{"l":10,"i":4,"x":14.9,"y":173.4},{"l":10,"i":5,"x":14.5,"y":172.8},{"l":10,"i":6,"x":14.1,"y":172.1},{"l":10,"i":7,"x":13.9,"y":171},{"l":10,"i":8,"x":13.7,"y":169.6},{"l":10,"i":9,"x":13.5,"y":167.9},{"l":10,"i":10,"x":13.4,"y":166},{"l":10,"i":11,"x":13.5,"y":163.1},{"l":10,"i":12,"x":13.5,"y":161.2},{"l":10,"i":13,"x":13.8,"y":159.2},{"l":10,"i":14,"x":14.1,"y":157.5},{"l":10,"i":15,"x":14.1,"y":156.9},{"l":10,"i":16,"x":14.2,"y":156.9},{"l":10,"i":17,"x":14.7,"y":161.4},{"l":10,"i":18,"x":15.1,"y":166.5},{"l":10,"i":19,"x":15.4,"y":170.7},{"l":10,"i":20,"x":15.6,"y":172.4}
]
},
"columns": 2,
"spacing": {"row": 73, "column": 66},
"bounds": "flush",
"concat": [
{
 "width": 211, "height": 126,
 "title": {"text": "k\u00a0\u00a0\u00a0=0.01ms\u207b\u00b9", "subtitle": "\u00a0\u00a0bc", "dx": 59},
 "data": {"name": "p1"},
 "layer": [
  {"mark": {"type": "line", "stroke": "#383838", "strokeWidth": 0.9, "clip": true, "strokeJoin": "round"},
   "encoding": {
    "x": {"field": "x", "type": "quantitative", "scale": {"domain": [0, 25], "nice": false, "zero": false}, "axis": {"values": [0, 5, 10, 15, 20, 25], "title": null}},
    "y": {"field": "y", "type": "quantitative", "scale": {"domain": [87, 300], "nice": false, "zero": false}, "axis": {"values": [100, 150, 200, 250, 300], "title": "y (\u03bcM)"}},
    "fill": {"field": "l", "type": "ordinal", "scale": {"domain": [1,2,3,4,5,6,7,8,9,10], "range": ["#efefef","#e0e0e0","#d0d0d0","#bfbfbf","#adadad","#999999","#838383","#6a6a6a","#4a4a4a","#1c1c1c"]}, "legend": null},
    "detail": {"field": "l"},
    "order": {"field": "i", "type": "quantitative"}
   }},
  {"mark": {"type": "point", "opacity": 0},
   "encoding": {
    "x": {"field": "x", "type": "quantitative", "axis": {"orient": "top", "labels": false, "title": null, "values": [0, 5, 10, 15, 20, 25]}},
    "y": {"field": "y", "type": "quantitative", "axis": {"orient": "right", "labels": false, "title": null, "values": [100, 150, 200, 250, 300]}}
   }}
 ],
 "resolve": {"axis": {"x": "independent", "y": "independent"}}
},
{
 "width": 211, "height": 126,
 "title": {"text": "k\u00a0\u00a0\u00a0=0.1ms\u207b\u00b9", "subtitle": "\u00a0\u00a0bc", "dx": 65.7},
 "data": {"name": "p2"},
 "layer": [
  {"mark": {"type": "line", "stroke": "#383838", "strokeWidth": 0.9, "clip": true, "strokeJoin": "round"},
   "encoding": {
    "x": {"field": "x", "type": "quantitative", "scale": {"domain": [0, 25], "nice": false, "zero": false}, "axis": {"values": [0, 5, 10, 15, 20, 25], "title": null}},
    "y": {"field": "y", "type": "quantitative", "scale": {"domain": [87, 300], "nice": false, "zero": false}, "axis": {"values": [100, 150, 200, 250, 300], "title": null}},
    "fill": {"field": "l", "type": "ordinal", "scale": {"domain": [1,2,3,4,5,6,7,8,9,10], "range": ["#efefef","#e0e0e0","#d0d0d0","#bfbfbf","#adadad","#999999","#838383","#6a6a6a","#4a4a4a","#1c1c1c"]}, "legend": null},
    "detail": {"field": "l"},
    "order": {"field": "i", "type": "quantitative"}
   }},
  {"mark": {"type": "point", "opacity": 0},
   "encoding": {
    "x": {"field": "x", "type": "quantitative", "axis": {"orient": "top", "labels": false, "title": null, "values": [0, 5, 10, 15, 20, 25]}},
    "y": {"field": "y", "type": "quantitative", "axis": {"orient": "right", "labels": false, "title": null, "values": [100, 150, 200, 250, 300]}}
   }}
 ],
 "resolve": {"axis": {"x": "independent", "y": "independent"}}
},
{
 "width": 211, "height": 126,
 "title": {"text": "k\u00a0\u00a0\u00a0=1ms\u207b\u00b9", "subtitle": "\u00a0\u00a0bc", "dx": 75.5},
 "data": {"name": "p3"},
 "layer": [
  {"mark": {"type": "line", "stroke": "#383838", "strokeWidth": 0.9, "clip": true, "strokeJoin": "round"},
   "encoding": {
    "x": {"field": "x", "type": "quantitative", "scale": {"domain": [0, 25], "nice": false, "zero": false}, "axis": {"values": [0, 5, 10, 15, 20, 25], "title": "x (\u03bcM)"}},
    "y": {"field": "y", "type": "quantitative", "scale": {"domain": [87, 300], "nice": false, "zero": false}, "axis": {"values": [100, 150, 200, 250, 300], "title": "y (\u03bcM)"}},
    "fill": {"field": "l", "type": "ordinal", "scale": {"domain": [1,2,3,4,5,6,7,8,9,10], "range": ["#efefef","#e0e0e0","#d0d0d0","#bfbfbf","#adadad","#999999","#838383","#6a6a6a","#4a4a4a","#1c1c1c"]}, "legend": null},
    "detail": {"field": "l"},
    "order": {"field": "i", "type": "quantitative"}
   }},
  {"mark": {"type": "point", "opacity": 0},
   "encoding": {
    "x": {"field": "x", "type": "quantitative", "axis": {"orient": "top", "labels": false, "title": null, "values": [0, 5, 10, 15, 20, 25]}},
    "y": {"field": "y", "type": "quantitative", "axis": {"orient": "right", "labels": false, "title": null, "values": [100, 150, 200, 250, 300]}}
   }}
 ],
 "resolve": {"axis": {"x": "independent", "y": "independent"}}
},
{
 "width": 211, "height": 126,
 "title": {"text": "k\u00a0\u00a0\u00a0=10ms\u207b\u00b9", "subtitle": "\u00a0\u00a0bc", "dx": 66.7},
 "data": {"name": "p4"},
 "layer": [
  {"mark": {"type": "line", "stroke": "#383838", "strokeWidth": 0.9, "clip": true, "strokeJoin": "round"},
   "encoding": {
    "x": {"field": "x", "type": "quantitative", "scale": {"domain": [0, 25], "nice": false, "zero": false}, "axis": {"values": [0, 5, 10, 15, 20, 25], "title": "x (\u03bcM)"}},
    "y": {"field": "y", "type": "quantitative", "scale": {"domain": [87, 300], "nice": false, "zero": false}, "axis": {"values": [100, 150, 200, 250, 300], "title": null}},
    "fill": {"field": "l", "type": "ordinal", "scale": {"domain": [1,2,3,4,5,6,7,8,9,10], "range": ["#efefef","#e0e0e0","#d0d0d0","#bfbfbf","#adadad","#999999","#838383","#6a6a6a","#4a4a4a","#1c1c1c"]}, "legend": null},
    "detail": {"field": "l"},
    "order": {"field": "i", "type": "quantitative"}
   }},
  {"mark": {"type": "point", "opacity": 0},
   "encoding": {
    "x": {"field": "x", "type": "quantitative", "axis": {"orient": "top", "labels": false, "title": null, "values": [0, 5, 10, 15, 20, 25]}},
    "y": {"field": "y", "type": "quantitative", "axis": {"orient": "right", "labels": false, "title": null, "values": [100, 150, 200, 250, 300]}}
   }}
 ],
 "resolve": {"axis": {"x": "independent", "y": "independent"}}
}
]
}
